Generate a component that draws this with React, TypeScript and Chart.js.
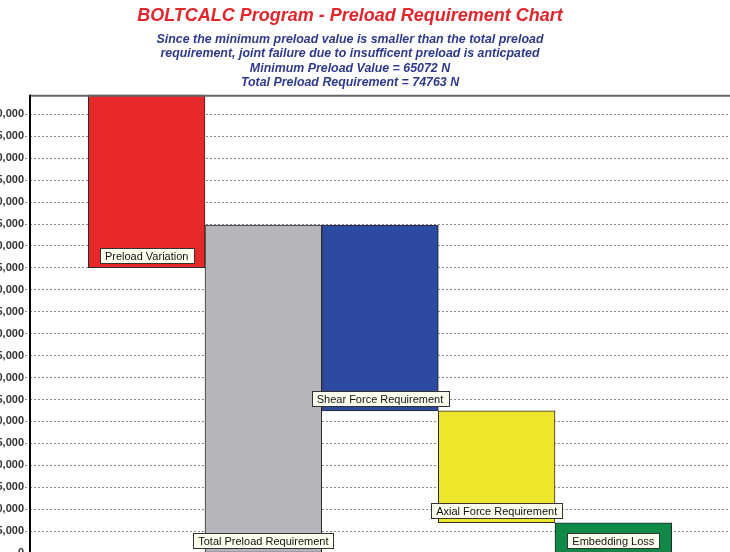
import React, { useEffect, useRef } from 'react';
import { Chart, registerables } from 'chart.js';

Chart.register(...registerables);

const titleText = 'BOLTCALC Program - Preload Requirement Chart';
const subtitleLines = [
  'Since the minimum preload value is smaller than the total preload',
  'requirement, joint failure due to insufficent preload is anticpated',
  'Minimum Preload Value = 65072 N',
  'Total Preload Requirement = 74763 N',
];
const categories = [
  'Preload Variation',
  'Total Preload Requirement',
  'Shear Force Requirement',
  'Axial Force Requirement',
  'Embedding Loss',
];
const barLows = [65072, 0, 32400, 6900, 0];
const barHighs = [104500, 74763, 74763, 32400, 6900];
const barColors = ['#E8292B', '#B4B6BA', '#2C4BA0', '#EEE62A', '#0E8A46'];
const yTickValues = [
  0, 5000, 10000, 15000, 20000, 25000, 30000, 35000, 40000, 45000, 50000,
  55000, 60000, 65000, 70000, 75000, 80000, 85000, 90000, 95000, 100000,
];
const yMin = 0;
const yMax = 104500;

const FONT = '"Liberation Sans", Arial, sans-serif';

const frameAndLabels = {
  id: 'frameAndLabels',
  afterDatasetsDraw(chart: any) {
    const { ctx, chartArea } = chart;
    ctx.save();
    ctx.strokeStyle = '#666';
    ctx.lineWidth = 2;
    ctx.beginPath();
    ctx.moveTo(chartArea.left, chartArea.top + 1);
    ctx.lineTo(chartArea.right, chartArea.top + 1);
    ctx.stroke();
    ctx.strokeStyle = '#000';
    ctx.beginPath();
    ctx.moveTo(chartArea.left, chartArea.top);
    ctx.lineTo(chartArea.left, chartArea.bottom);
    ctx.stroke();

    const meta = chart.getDatasetMeta(0);
    const labels = chart.data.labels as string[];
    ctx.font = '11px ' + FONT;
    ctx.textAlign = 'center';
    ctx.textBaseline = 'middle';
    meta.data.forEach((bar: any, i: number) => {
      const text = labels[i];
      if (!text) return;
      const p = bar.getProps(['x', 'y', 'base'], true);
      const bottom = Math.max(p.y, p.base);
      const w = Math.round(ctx.measureText(text).width + 10);
      const h = 15;
      const x0 = Math.round(p.x - w / 2) + 0.5;
      const y0 = Math.round(bottom - 12 - h / 2) + 0.5;
      ctx.fillStyle = '#FFFFF0';
      ctx.fillRect(x0, y0, w, h);
      ctx.strokeStyle = '#333';
      ctx.lineWidth = 1;
      ctx.strokeRect(x0, y0, w, h);
      ctx.fillStyle = '#111';
      ctx.fillText(text, p.x, y0 + h / 2 + 0.5);
    });
    ctx.restore();
  },
};

export default function App() {
  const ref = useRef<HTMLCanvasElement>(null);

  useEffect(() => {
    if (!ref.current) return;
    const labels = ['', ...categories, ''];
    const data = [null, ...categories.map((_, i) => [barLows[i], barHighs[i]]), null];
    const colors = ['#fff', ...barColors, '#fff'];
    const chart = new Chart(ref.current, {
      type: 'bar',
      data: {
        labels,
        datasets: [
          {
            data: data as any,
            backgroundColor: colors,
            borderColor: '#2a2a2a',
            borderWidth: 1,
            borderSkipped: false,
            barPercentage: 1,
            categoryPercentage: 1,
          },
        ],
      },
      options: {
        responsive: false,
        animation: false,
        devicePixelRatio: 1,
        layout: { padding: { left: 0, right: 0, top: 0, bottom: 47 } },
        plugins: {
          legend: { display: false },
          tooltip: { enabled: false },
          title: {
            display: true,
            text: titleText,
            color: '#E2262C',
            font: { family: FONT, size: 18, weight: 'bold', style: 'italic', lineHeight: 1.2 },
            padding: { top: 5, bottom: 3 },
          },
          subtitle: {
            display: true,
            text: subtitleLines,
            color: '#2E3A8E',
            font: { family: FONT, size: 12.4, weight: 'bold', style: 'italic', lineHeight: 1.15 },
            padding: { top: 3, bottom: 5 },
          },
        },
        scales: {
          x: {
            display: false,
            offset: false,
            grid: { display: false },
          },
          y: {
            min: yMin,
            max: yMax,
            afterFit: (scale: any) => {
              scale.width = 60;
            },
            afterBuildTicks: (scale: any) => {
              scale.ticks = yTickValues.map((v) => ({ value: v }));
            },
            ticks: {
              padding: 1,
              color: '#333',
              font: { family: FONT, size: 11, weight: 'bold' },
              callback: (v: any) => Number(v).toLocaleString('en-US'),
            },
            grid: {
              color: '#8a8a8a',
              lineWidth: 1,
              tickLength: 5,
              tickBorderDash: [2, 2],
            },
            border: { display: false, dash: [2, 2] },
          },
        },
      },
      plugins: [frameAndLabels],
    });
    return () => chart.destroy();
  }, []);

  return (
    <div
      style={{
        position: 'fixed',
        left: 0,
        top: 0,
        width: 730,
        height: 552,
        overflow: 'hidden',
        background: '#fff',
      }}
    >
      <canvas
        ref={ref}
        width={760}
        height={600}
        style={{ position: 'absolute', left: -30, top: 0, width: 760, height: 600 }}
      />
    </div>
  );
}
